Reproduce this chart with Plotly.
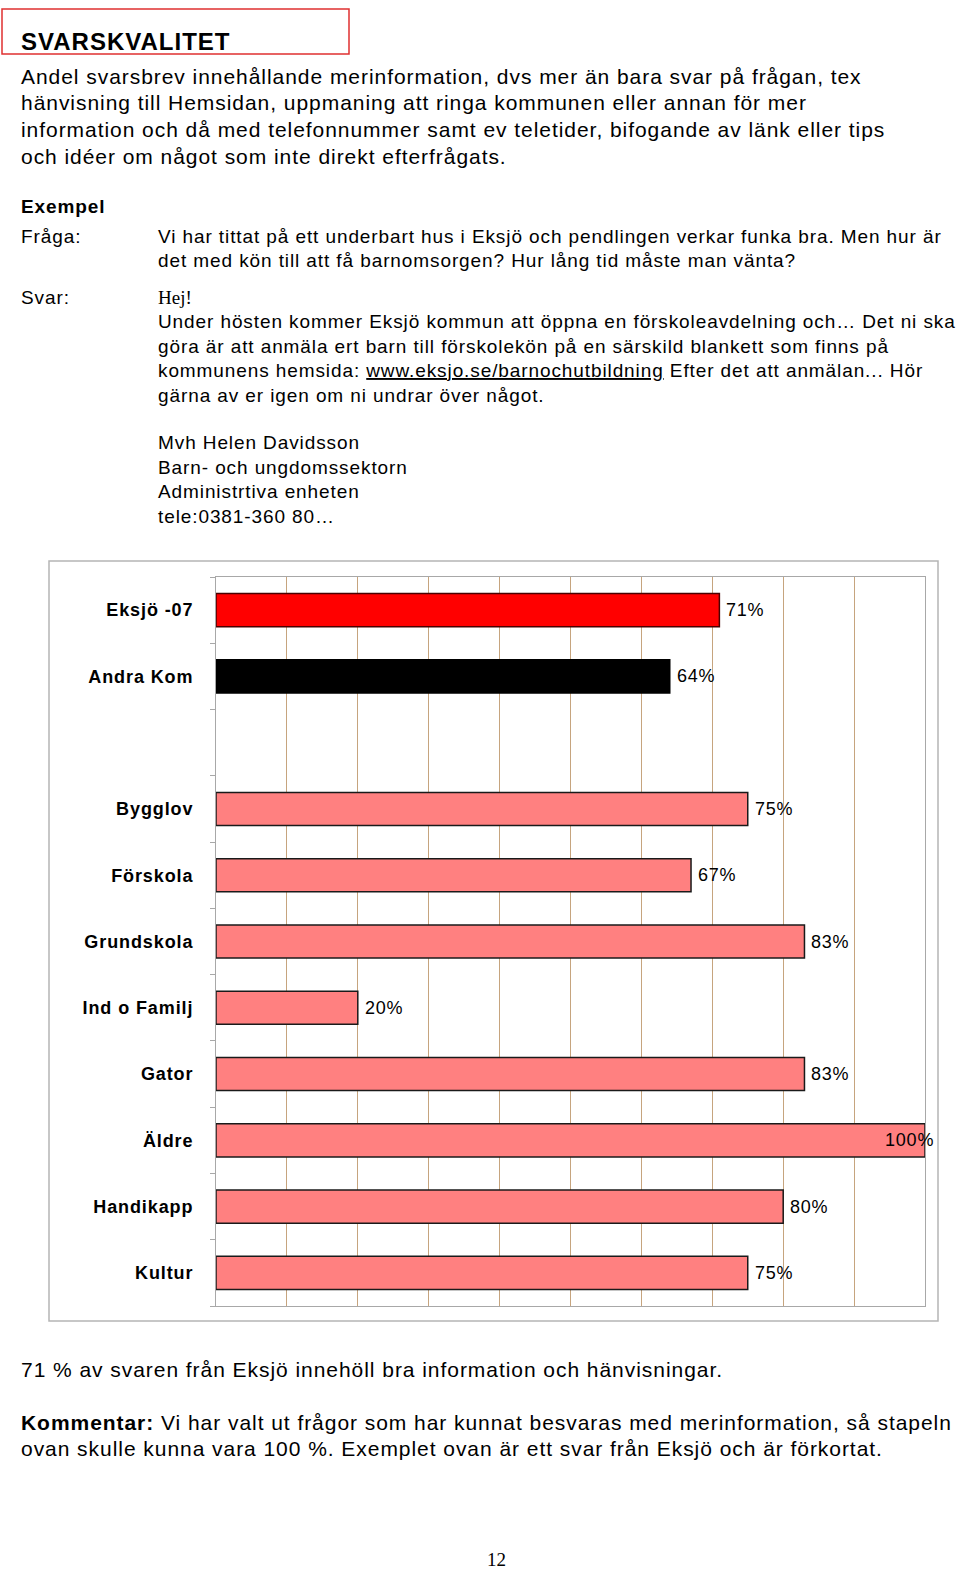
import plotly.graph_objects as go

W, H = 960, 1569

categories = ["Eksjö -07", "Andra Kom", " ", "Bygglov", "Förskola", "Grundskola",
              "Ind o Familj", "Gator", "Äldre", "Handikapp", "Kultur"]
values = [71, 64, None, 75, 67, 83, 20, 83, 100, 80, 75]
bar_colors = ["#FF0000", "#000000", "#FF8080", "#FF8080", "#FF8080", "#FF8080",
              "#FF8080", "#FF8080", "#FF8080", "#FF8080", "#FF8080"]
line_colors = ["#4A0000", "#000000", "#1A1A1A", "#1A1A1A", "#1A1A1A", "#1A1A1A",
               "#1A1A1A", "#1A1A1A", "#1A1A1A", "#1A1A1A", "#1A1A1A"]
value_labels = ["71%", "64%", "", "75%", "67%", "83%", "20%", "83%", "100%", "80%", "75%"]

SANS = "Arial, Liberation Sans, sans-serif"
SERIF = "Times New Roman, Liberation Serif, serif"


def px(x):
    return x / W


def py(y):
    return 1 - y / H


def sp(s, ls):
    return '<span style="letter-spacing:%spx">%s</span>' % (ls, s)


fig = go.Figure()
fig.add_trace(go.Bar(
    y=categories, x=values, orientation="h",
    marker=dict(color=bar_colors, line=dict(color=line_colors, width=1.5)),
    width=0.5, hoverinfo="skip", showlegend=False,
))

annotations = []
# data labels
for cat, v, lab in zip(categories, values, value_labels):
    if v is None:
        continue
    if v >= 100:
        annotations.append(dict(x=v, y=cat, xref="x", yref="y", text=sp(lab, 0.8), showarrow=False,
                                xanchor="right", xshift=11, yanchor="middle",
                                font=dict(family=SANS, size=18, color="black")))
    else:
        annotations.append(dict(x=v, y=cat, xref="x", yref="y", text=sp(lab, 0.8), showarrow=False,
                                xanchor="left", xshift=5, yanchor="middle",
                                font=dict(family=SANS, size=18, color="black")))


def text(x, y, s, size=20, family=SANS, anchor="left", ls=0):
    if ls:
        s = sp(s, ls)
    annotations.append(dict(x=px(x), y=py(y), xref="paper", yref="paper", text=s,
                            showarrow=False, xanchor=anchor, yanchor="middle",
                            font=dict(family=family, size=size, color="black")))


BODY_SIZE, BODY_LS = 21, 0.95
SMALL_SIZE, SMALL_LS = 19, 0.9

text(19, 42, "<b>SVARSKVALITET</b>", size=24, ls=1)
body = [
    "Andel svarsbrev innehållande merinformation, dvs mer än bara svar på frågan, tex",
    "hänvisning till Hemsidan, uppmaning att ringa kommunen eller annan för mer",
    "information och då med telefonnummer samt ev teletider, bifogande av länk eller tips",
    "och idéer om något som inte direkt efterfrågats.",
]
for i, s in enumerate(body):
    text(19, 76 + i * 26.8, s, size=BODY_SIZE, ls=BODY_LS)

text(19, 207, "<b>Exempel</b>", size=SMALL_SIZE, ls=SMALL_LS)
text(19, 237, "Fråga:", size=SMALL_SIZE, ls=SMALL_LS)
text(156, 237, "Vi har tittat på ett underbart hus i Eksjö och pendlingen verkar funka bra. Men hur är",
     size=SMALL_SIZE, ls=SMALL_LS)
text(156, 261, "det med kön till att få barnomsorgen? Hur lång tid måste man vänta?",
     size=SMALL_SIZE, ls=SMALL_LS)
text(19, 298, "Svar:", size=SMALL_SIZE, ls=SMALL_LS)
text(156, 298, "Hej!", size=SMALL_SIZE, family=SERIF)
svar = [
    "Under hösten kommer Eksjö kommun att öppna en förskoleavdelning och… Det ni ska",
    "göra är att anmäla ert barn till förskolekön på en särskild blankett som finns på",
    "kommunens hemsida: <u>www.eksjo.se/barnochutbildning</u> Efter det att anmälan... Hör",
    "gärna av er igen om ni undrar över något.",
]
for i, s in enumerate(svar):
    text(156, 322 + i * 24.4, s, size=SMALL_SIZE, ls=SMALL_LS)
sign = ["Mvh Helen Davidsson", "Barn- och ungdomssektorn", "Administrtiva enheten", "tele:0381-360 80…"]
for i, s in enumerate(sign):
    text(156, 443 + i * 24.4, s, size=SMALL_SIZE, ls=SMALL_LS)

text(19, 1369, "71 % av svaren från Eksjö innehöll bra information och hänvisningar.",
     size=BODY_SIZE, ls=BODY_LS)
text(19, 1422, "<b>Kommentar:</b> Vi har valt ut frågor som har kunnat besvaras med merinformation, så stapeln",
     size=BODY_SIZE, ls=BODY_LS)
text(19, 1448, "ovan skulle kunna vara 100 %. Exemplet ovan är ett svar från Eksjö och är förkortat.",
     size=BODY_SIZE, ls=BODY_LS)
text(496, 1559, "12", size=19, family=SERIF, anchor="center")

shapes = [
    dict(type="rect", xref="paper", yref="paper", x0=px(49), x1=px(938), y0=py(1321), y1=py(561),
         line=dict(color="#B5B5B5", width=1.5), fillcolor="white", layer="below"),
    dict(type="rect", xref="paper", yref="paper", x0=px(2), x1=px(349), y0=py(54), y1=py(9),
         line=dict(color="#E03030", width=1.5), fillcolor="rgba(0,0,0,0)", layer="above"),
]

fig.update_layout(
    width=W, height=H,
    margin=dict(l=0, r=0, t=0, b=0),
    paper_bgcolor="white",
    plot_bgcolor="#FFCC99",
    annotations=annotations,
    shapes=shapes,
    xaxis=dict(domain=[px(216), px(925)], range=[0, 100], dtick=10, showgrid=True,
               gridcolor="#C6A47E", gridwidth=1, showticklabels=False, zeroline=False,
               showline=True, linecolor="#A8A8A8", linewidth=1, mirror=True, fixedrange=True),
    yaxis=dict(domain=[py(1306), py(577)], type="category", categoryorder="array",
               categoryarray=categories, autorange="reversed", showgrid=False,
               ticks="outside", tickson="boundaries", ticklen=5, tickcolor="#A8A8A8",
               showline=True, linecolor="#A8A8A8", linewidth=1, mirror=True,
               tickfont=dict(family=SANS, size=18, color="black"),
               ticklabelstandoff=18, fixedrange=True),
    bargap=0.5,
)
fig.update_yaxes(tickvals=categories,
                 ticktext=[sp("<b>%s</b>" % c, 0.9) if c.strip() else "" for c in categories])

fig.write_html("out.html",
               config={"displayModeBar": False, "staticPlot": True},
               post_script="document.body.style.margin='0';document.body.style.padding='0';"
                           "document.documentElement.style.overflow='hidden';")
